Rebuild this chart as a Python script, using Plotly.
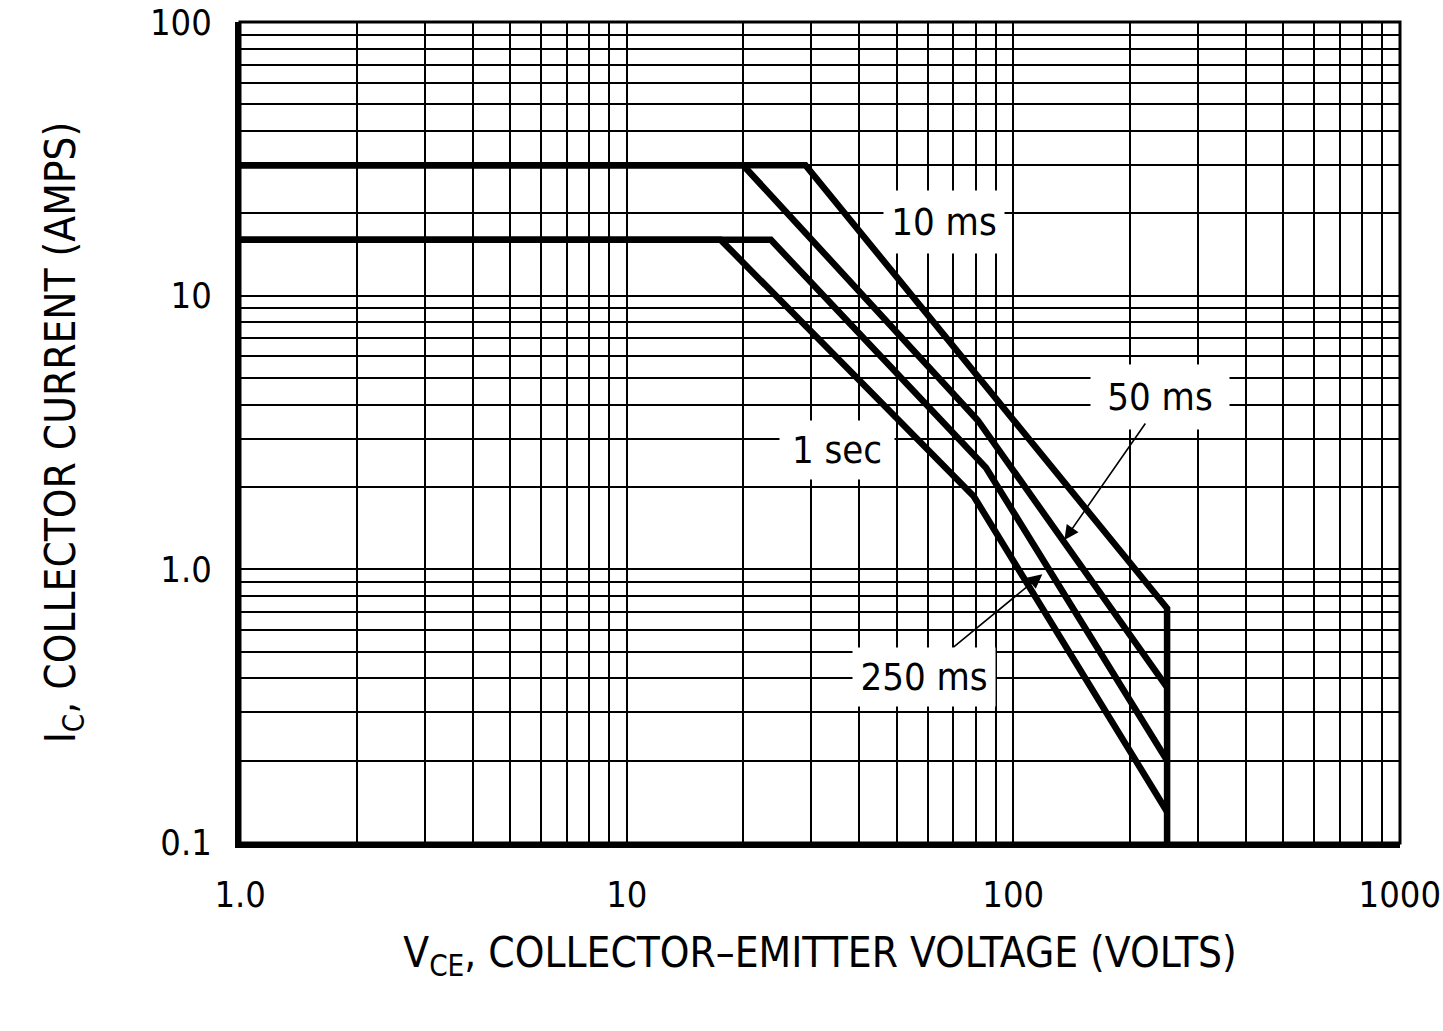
import math
import plotly.graph_objects as go

# ---- data ----
V_10ms = [1, 29, 250, 250]
I_10ms = [30, 30, 0.72, 0.1]

V_50ms = [1, 20, 81, 250]
I_50ms = [30, 30, 3.5, 0.37]

V_250ms = [1, 23.6, 85, 250]
I_250ms = [16, 16, 2.35, 0.2]

V_1sec = [1, 17.5, 79, 250]
I_1sec = [16, 16, 1.85, 0.13]

x_major = [1, 10, 100, 1000]
x_labels = ["1.0", "10", "100", "1000"]
y_major = [0.1, 1, 10, 100]
y_labels = ["0.1", "1.0", "10", "100"]

FONT = "DejaVu Sans Condensed, Liberation Sans Narrow, Arial Narrow, sans-serif"


def grid_vals(majors):
    vals = []
    for m in majors[:-1]:
        for k in range(1, 10):
            vals.append(round(m * k, 6))
    vals.append(majors[-1])
    return vals


def grid_text(vals, majors, labels):
    lut = {round(v, 6): t for v, t in zip(majors, labels)}
    return [lut.get(round(v, 6), "") for v in vals]


L = math.log10
xv = grid_vals(x_major)
yv = grid_vals(y_major)

fig = go.Figure()
for V, I in [(V_10ms, I_10ms), (V_50ms, I_50ms), (V_250ms, I_250ms), (V_1sec, I_1sec)]:
    fig.add_trace(go.Scatter(x=V, y=I, mode="lines",
                             line=dict(color="black", width=6.5),
                             showlegend=False, hoverinfo="skip"))

fig.update_xaxes(type="log", range=[-0.0005, 3.0005], tickmode="array", tickvals=xv,
                 ticktext=grid_text(xv, x_major, x_labels),
                 showgrid=True, gridcolor="black", gridwidth=2,
                 showline=True, linecolor="black", linewidth=5,
                 ticks="", ticklabelstandoff=16, automargin=False,
                 ticklabeloverflow="allow",
                 tickfont=dict(family=FONT, size=36, color="black"),
                 title=dict(text="V<sub>CE</sub>, COLLECTOR–EMITTER VOLTAGE (VOLTS)",
                            font=dict(family=FONT, size=42, color="black"), standoff=25),
                 zeroline=False)
fig.update_yaxes(type="log", range=[-1.0005, 2.0005], tickmode="array", tickvals=yv,
                 ticktext=grid_text(yv, y_major, y_labels),
                 showgrid=True, gridcolor="black", gridwidth=2,
                 showline=True, linecolor="black", linewidth=5,
                 ticks="", ticklabelstandoff=16, automargin=False,
                 ticklabeloverflow="allow",
                 tickfont=dict(family=FONT, size=36, color="black"),
                 title=dict(text="I<sub>C</sub>, COLLECTOR CURRENT (AMPS)",
                            font=dict(family=FONT, size=42, color="black"), standoff=63),
                 zeroline=False)

# thin frame on top/right
fig.add_shape(type="rect", xref="paper", yref="paper", x0=0, x1=1, y0=0, y1=1,
              line=dict(color="black", width=3), layer="above")

lab_font = dict(family=FONT, size=38, color="black")
labels = [
    dict(text="10 ms", x=66.3, y=18.6, width=118, height=60),
    dict(text="50 ms", x=239, y=4.26, width=136, height=62),
    dict(text="1 sec", x=35, y=2.73, width=112, height=56),
    dict(text="250 ms", x=58.8, y=0.404, width=140, height=56),
]
for a in labels:
    fig.add_annotation(text=a["text"], x=L(a["x"]), y=L(a["y"]), xref="x", yref="y",
                       showarrow=False, font=lab_font, bgcolor="white",
                       width=a["width"], height=a["height"], align="center")

# arrows
fig.add_annotation(x=L(135.6), y=L(1.28), xref="x", yref="y", ax=82, ay=-118, text="",
                   showarrow=True, arrowhead=2, arrowsize=1.8, arrowwidth=1.6, arrowcolor="black")
fig.add_annotation(x=L(118.9), y=L(0.96), xref="x", yref="y", ax=-90, ay=74, text="",
                   showarrow=True, arrowhead=2, arrowsize=1.8, arrowwidth=1.6, arrowcolor="black")

fig.update_layout(width=1443, height=1031,
                  margin=dict(l=240, r=43, t=22, b=188),
                  paper_bgcolor="white", plot_bgcolor="white",
                  font=dict(family=FONT, color="black"))

fig.write_html("out.html", config={"displayModeBar": False},
               post_script="document.body.style.margin='0px';")
